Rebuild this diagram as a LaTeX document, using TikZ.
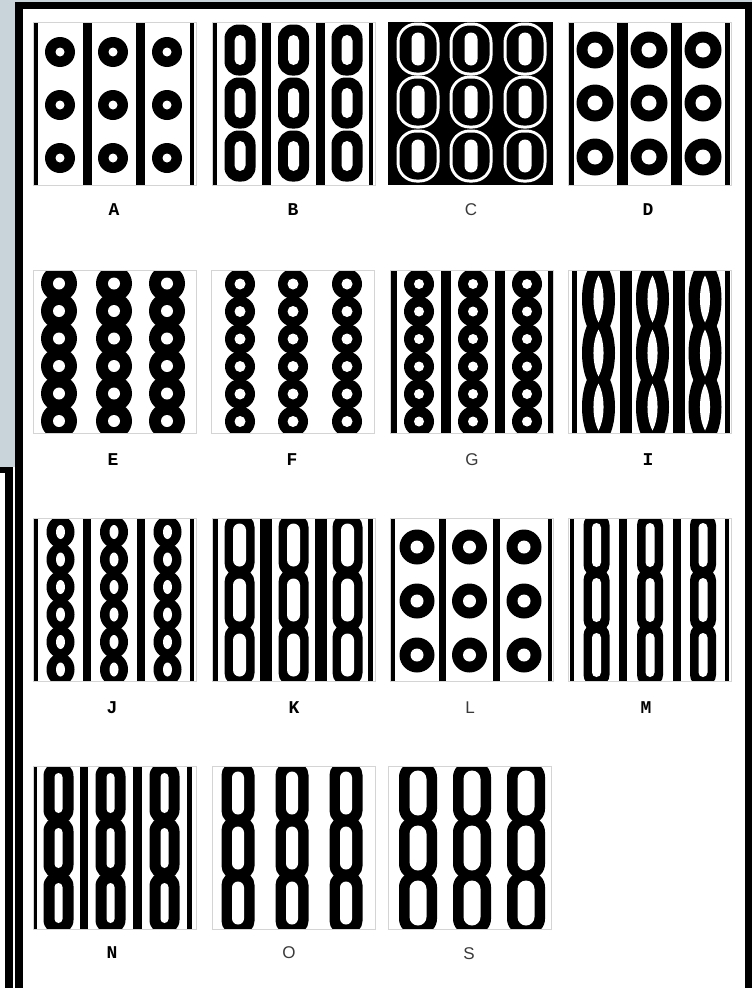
\documentclass[tikz,border=0pt]{standalone}
\usepackage{fontspec}
\newfontfamily\slabf{Liberation Mono}
\newfontfamily\sansf{Liberation Sans}
\definecolor{slatebg}{HTML}{C8D3DA}
\definecolor{panelline}{HTML}{D4D4D4}
\definecolor{lblgray}{HTML}{3A3A3A}
\newcommand\stad[6]{\fill[#1, rounded corners=#6pt] ({#2-#4/2},{#3-#5/2}) rectangle ({#2+#4/2},{#3+#5/2});}
\newcommand\ringo[4]{\fill[black] (#1,#2) circle[radius=#3]; \fill[white] (#1,#2) circle[radius=#4];}
\newcommand\vbar[2]{\fill[black] (#1,0) rectangle (#2,163);}
\newcommand\pframe{\draw[frame] (0,0) rectangle (163,163);}
\newcommand\pclip{\clip (0,0) rectangle (163,163);}
\begin{document}
\begin{tikzpicture}[x=1pt,y=-1pt,
  lbl/.style={font=\slabf\bfseries\fontsize{18}{18}\selectfont, text=black, inner sep=0pt},
  lbls/.style={font=\sansf\fontsize{17}{17}\selectfont, text=lblgray, inner sep=0pt},
  frame/.style={draw=panelline, line width=0.8pt}]
\useasboundingbox (0,0) rectangle (752,988);
\fill[white] (0,0) rectangle (752,988);
\fill[slatebg] (0,0) rectangle (752,2);
\fill[slatebg] (0,0) rectangle (15,467);
\fill[black] (15,2) rectangle (752,988);
\fill[white] (23,9) rectangle (745,988);
\fill[black] (0,467) rectangle (13,473);
\fill[black] (5,467) rectangle (13,988);

% ---------- Row 1 ----------
% A
\begin{scope}[shift={(33,22)}]
  \vbar{1}{5}\vbar{50}{59}\vbar{103}{112}\vbar{157}{161}
  \foreach \cx in {27,80,134}{\foreach \cy in {30,83,136}{\ringo{\cx}{\cy}{15}{4.5}}}
  \pframe
\end{scope}
\node[lbl] (labA) at (114,210) {A};
% B
\begin{scope}[shift={(212,22)}]
  \vbar{1}{5}\vbar{50}{59}\vbar{104}{113}\vbar{157}{161}
  \foreach \cx in {28,81.5,135}{\foreach \cy in {28,81,134}{\stad{black}{\cx}{\cy}{31}{51}{14}\stad{white}{\cx}{\cy}{11}{30}{5.5}}}
  \pframe
\end{scope}
\node[lbl] (labB) at (293,210) {B};
% C
\begin{scope}[shift={(388,22)}]
  \fill[black] (0,0) rectangle (165,163);
  \foreach \cx in {30,83,137}{\foreach \cy in {27,80,134}{\stad{white}{\cx}{\cy}{43}{53}{20}}}
  \foreach \cx in {30,83,137}{\foreach \cy in {27,80,134}{\stad{black}{\cx}{\cy}{37}{47}{17}}}
  \foreach \cx in {30,83,137}{\foreach \cy in {27,80,134}{\stad{white}{\cx}{\cy}{13}{33}{6.5}}}
\end{scope}
\node[lbls] (labC) at (471,210) {C};
% D
\begin{scope}[shift={(568,22)}]
  \vbar{0}{6}\vbar{49}{60}\vbar{103}{114}\vbar{157}{162}
  \foreach \cx in {27,81,135}{\foreach \cy in {28,81,135}{\ringo{\cx}{\cy}{18.5}{7.5}}}
  \pframe
\end{scope}
\node[lbl] (labD) at (648,210) {D};

% ---------- Row 2 ----------
% E
\begin{scope}[shift={(33,270)}]
  \begin{scope}\pclip
  \foreach \cx in {26,81,134}{\foreach \cy in {13.5,41,68.5,96,123.5,151}{\fill[black] (\cx,\cy) circle[radius=18];}}
  \foreach \cx in {26,81,134}{\foreach \cy in {13.5,41,68.5,96,123.5,151}{\fill[white] (\cx,\cy) circle[radius=6];}}
  \end{scope}
  \pframe
\end{scope}
\node[lbl] (labE) at (113,460) {E};
% F
\begin{scope}[shift={(211,270)}]
  \begin{scope}\pclip
  \foreach \cx in {29,82,136}{\foreach \cy in {14,41.5,69,96.5,124,151.5}{\fill[black] (\cx,\cy) circle[radius=15];}}
  \foreach \cx in {29,82,136}{\foreach \cy in {14,41.5,69,96.5,124,151.5}{\fill[white] (\cx,\cy) circle[radius=5.5];}}
  \end{scope}
  \pframe
\end{scope}
\node[lbl] (labF) at (292,460) {F};
% G
\begin{scope}[shift={(390,270)}]
  \begin{scope}\pclip
  \vbar{1}{7}\vbar{51}{61}\vbar{105}{115}\vbar{158}{163}
  \foreach \cx in {29,83,137}{\foreach \cy in {14,41.5,69,96.5,124,151.5}{\fill[black] (\cx,\cy) circle[radius=15];}}
  \foreach \cx in {29,83,137}{\foreach \cy in {14,41.5,69,96.5,124,151.5}{\fill[white] (\cx,\cy) circle[radius=5];}}
  \end{scope}
  \pframe
\end{scope}
\node[lbls] (labG) at (472,460) {G};
% I
\begin{scope}[shift={(568,270)}]
  \begin{scope}\pclip
  \vbar{4}{9}\vbar{52}{64}\vbar{105}{117}\vbar{157}{162}
  \foreach \cx in {30.5,84.5,137}{\foreach \cy in {29,83,137}{\fill[black] (\cx,\cy) ellipse[x radius=16.5, y radius=38];}}
  \foreach \cx in {30.5,84.5,137}{\foreach \cy in {29,83,137}{\fill[white] (\cx,{\cy-23.5}) .. controls ({\cx+6.7},{\cy-11}) and ({\cx+6.7},{\cy+11}) .. (\cx,{\cy+23.5}) .. controls ({\cx-6.7},{\cy+11}) and ({\cx-6.7},{\cy-11}) .. cycle;}}
  \end{scope}
  \pframe
\end{scope}
\node[lbl] (labI) at (648,460) {I};

% ---------- Row 3 ----------
% J
\begin{scope}[shift={(33,518)}]
  \begin{scope}\pclip
  \vbar{1}{5}\vbar{50}{58}\vbar{104}{112}\vbar{157}{161}
  \foreach \cx in {27.5,81,134.5}{\foreach \cy in {14,41.5,69,96.5,124,151.5}{\fill[black] (\cx,\cy) ellipse[x radius=14, y radius=16];}}
  \foreach \cx in {27.5,81,134.5}{\foreach \cy in {14,41.5,69,96.5,124,151.5}{\fill[white] (\cx,\cy) ellipse[x radius=4.5, y radius=7];}}
  \end{scope}
  \pframe
\end{scope}
\node[lbl] (labJ) at (112,708) {J};
% K
\begin{scope}[shift={(212,518)}]
  \begin{scope}\pclip
  \vbar{1}{6}\vbar{48}{60}\vbar{103}{115}\vbar{156}{161}
  \foreach \cx in {27.5,81.5,135.5}{\foreach \cy in {27,82,137}{\stad{black}{\cx}{\cy}{30}{62}{13}}}
  \foreach \cx in {27.5,81.5,135.5}{\foreach \cy in {27,82,137}{\stad{white}{\cx}{\cy}{13}{43}{6.5}}}
  \end{scope}
  \pframe
\end{scope}
\node[lbl] (labK) at (294,708) {K};
% L
\begin{scope}[shift={(390,518)}]
  \vbar{1}{5}\vbar{49}{56}\vbar{103}{110}\vbar{158}{162}
  \foreach \cx in {27,79.5,134}{\foreach \cy in {29,83,137}{\ringo{\cx}{\cy}{17.5}{6.5}}}
  \pframe
\end{scope}
\node[lbls] (labL) at (470,708) {L};
% M
\begin{scope}[shift={(568,518)}]
  \begin{scope}\pclip
  \vbar{2}{6}\vbar{51}{59}\vbar{105}{113}\vbar{157}{161}
  \foreach \cx in {28.5,82,135}{\foreach \cy in {27,82,137}{\stad{black}{\cx}{\cy}{26}{62}{11}}}
  \foreach \cx in {28.5,82,135}{\foreach \cy in {27,82,137}{\stad{white}{\cx}{\cy}{9}{44}{4.5}}}
  \end{scope}
  \pframe
\end{scope}
\node[lbl] (labM) at (646,708) {M};

% ---------- Row 4 ----------
% N
\begin{scope}[shift={(33,766)}]
  \begin{scope}\pclip
  \vbar{0}{4}\vbar{47}{55}\vbar{100}{109}\vbar{154}{159}
  \foreach \cx in {25.5,77.5,131.5}{\foreach \cy in {27,82,137}{\stad{black}{\cx}{\cy}{30}{62}{14}}}
  \foreach \cx in {25.5,77.5,131.5}{\foreach \cy in {27,82,137}{\stad{white}{\cx}{\cy}{8}{40}{4}}}
  \end{scope}
  \pframe
\end{scope}
\node[lbl] (labN) at (112,953) {N};
% O
\begin{scope}[shift={(212,766)}]
  \begin{scope}\pclip
  \foreach \cx in {26,80,134}{\foreach \cy in {27,82,137}{\stad{black}{\cx}{\cy}{33}{62}{13}}}
  \foreach \cx in {26,80,134}{\foreach \cy in {27,82,137}{\stad{white}{\cx}{\cy}{12}{43}{6}}}
  \end{scope}
  \pframe
\end{scope}
\node[lbls] (labO) at (289,953) {O};
% S
\begin{scope}[shift={(388,766)}]
  \begin{scope}\pclip
  \foreach \cx in {30,84,138}{\foreach \cy in {27,82,137}{\stad{black}{\cx}{\cy}{38}{62}{15}}}
  \foreach \cx in {30,84,138}{\foreach \cy in {27,82,137}{\stad{white}{\cx}{\cy}{17}{45}{8.5}}}
  \end{scope}
  \pframe
\end{scope}
\node[lbls] (labS) at (469,954) {S};
\end{tikzpicture}
\end{document}
